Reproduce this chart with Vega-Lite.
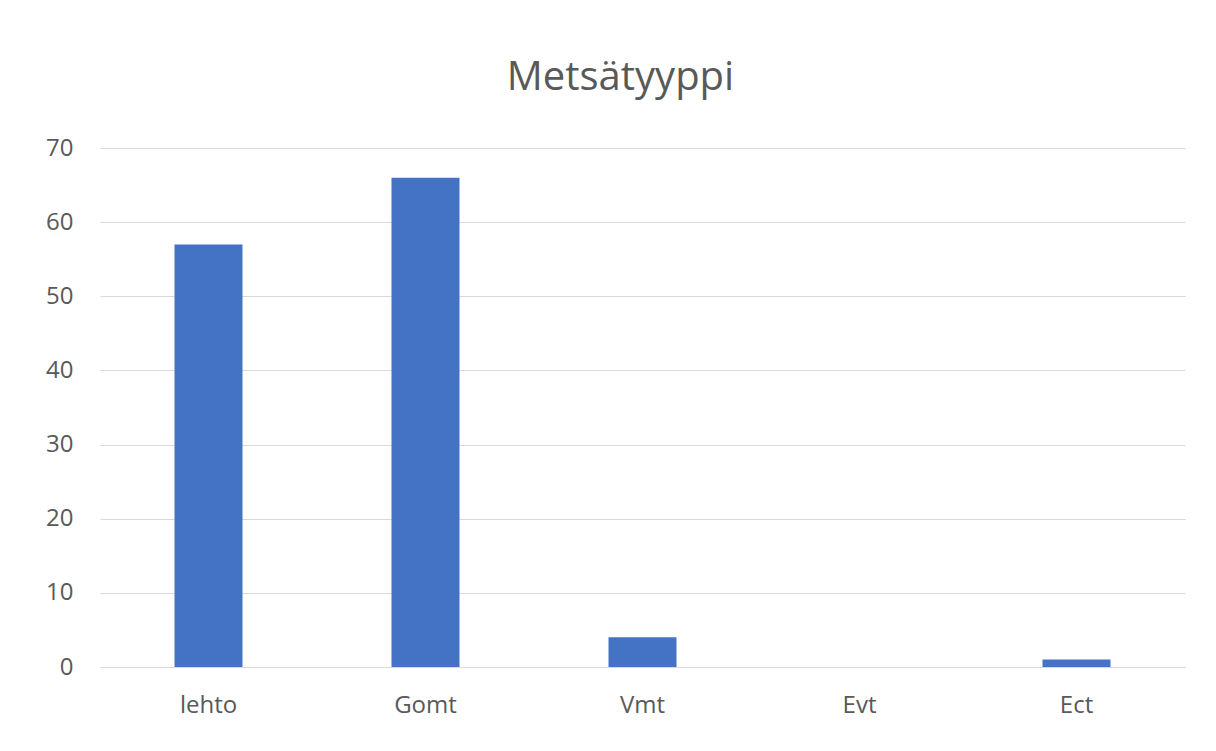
{
  "$schema": "https://vega.github.io/schema/vega-lite/v6.json",
  "width": 1085,
  "height": 519,
  "autosize": {"type": "none"},
  "padding": {"left": 100, "top": 148, "right": 31, "bottom": 84},
  "background": "white",
  "title": {
    "text": "Metsätyyppi",
    "fontSize": 40,
    "font": "Open Sans",
    "fontWeight": "normal",
    "color": "#595959",
    "offset": 38,
    "dx": -22
  },
  "data": {
    "values": [
      {"tyyppi": "lehto", "arvo": 57},
      {"tyyppi": "Gomt", "arvo": 66},
      {"tyyppi": "Vmt", "arvo": 4},
      {"tyyppi": "Evt", "arvo": 0},
      {"tyyppi": "Ect", "arvo": 1}
    ]
  },
  "mark": {"type": "bar", "color": "#4472C4", "size": 68},
  "encoding": {
    "x": {
      "field": "tyyppi",
      "type": "nominal",
      "sort": null,
      "title": null,
      "axis": {
        "labelAngle": 0,
        "labelFontSize": 24,
        "labelFont": "Open Sans",
        "labelColor": "#595959",
        "labelPadding": 26,
        "ticks": false,
        "domainColor": "#d9d9d9"
      }
    },
    "y": {
      "field": "arvo",
      "type": "quantitative",
      "title": null,
      "scale": {"domain": [0, 70], "nice": false},
      "axis": {
        "values": [0, 10, 20, 30, 40, 50, 60, 70],
        "labelFontSize": 24,
        "labelFont": "Open Sans",
        "labelColor": "#595959",
        "labelPadding": 27,
        "ticks": false,
        "domain": false,
        "gridColor": "#d9d9d9"
      }
    }
  },
  "config": {"view": {"stroke": null}}
}
